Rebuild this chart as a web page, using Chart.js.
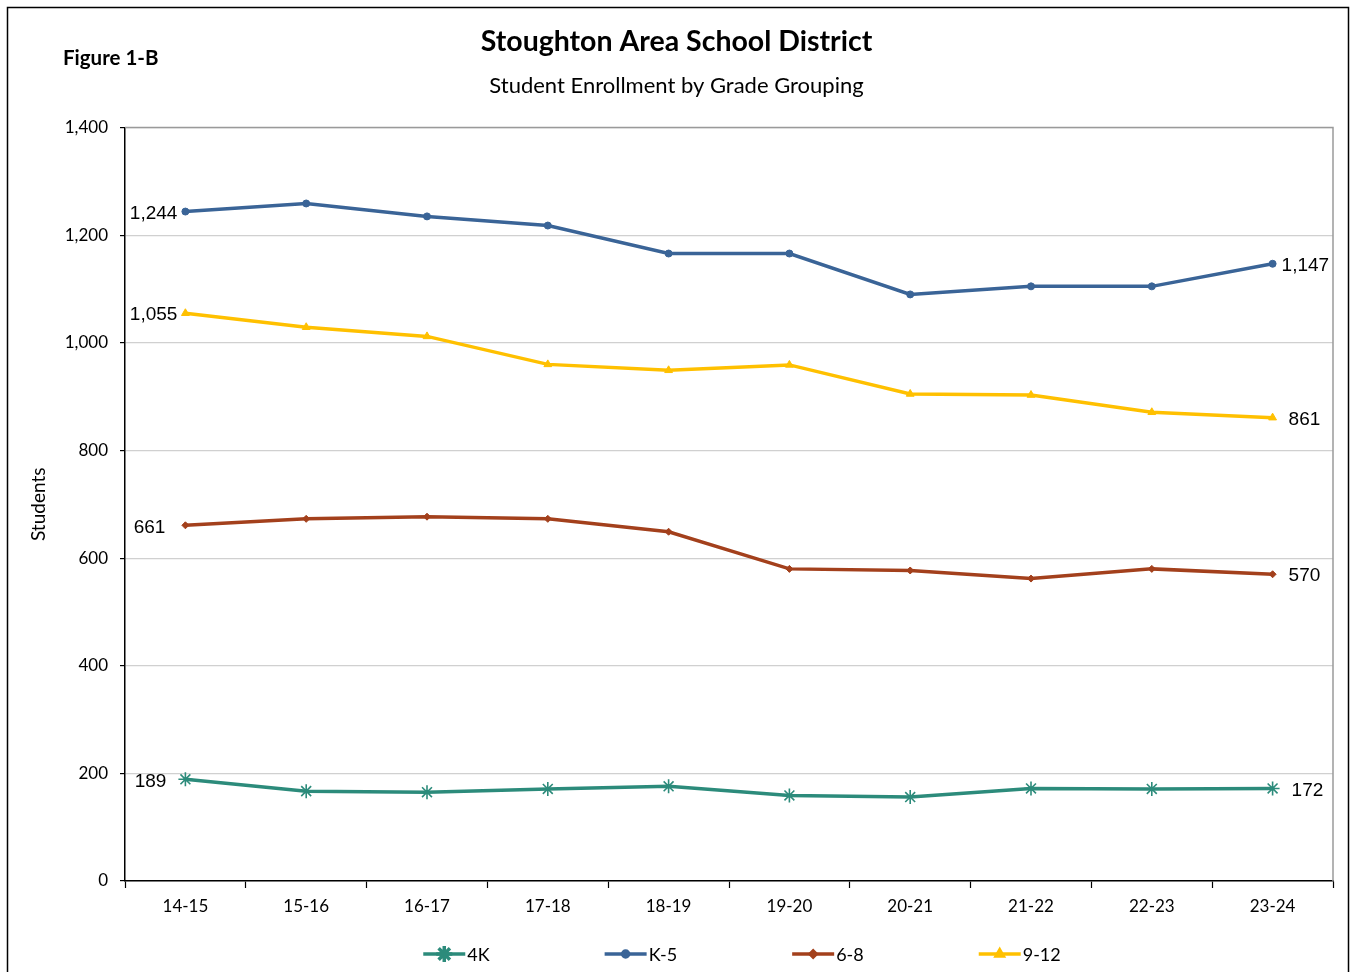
<!DOCTYPE html>
<html>
<head>
<meta charset="utf-8">
<script src="https://cdn.jsdelivr.net/npm/chart.js@4/dist/chart.umd.min.js"></script>
<style>
  html, body { margin: 0; padding: 0; background: #fff; }
  #box { width: 1350px; height: 972px; }
</style>
</head>
<body>
<div id="box"><canvas id="enrollment"></canvas></div>
<script>
// années scolaires
const years = ['14-15', '15-16', '16-17', '17-18', '18-19', '19-20', '20-21', '21-22', '22-23', '23-24'];

// effectifs par groupe
const pre4K = [189, 167, 165, 171, 176, 159, 156, 172, 171, 172];
const gradesK5 = [1244, 1259, 1235, 1218, 1166, 1166, 1090, 1105, 1105, 1147];
const grades68 = [661, 673, 677, 673, 649, 580, 577, 562, 580, 570];
const grades912 = [1055, 1029, 1012, 960, 949, 959, 905, 903, 871, 861];

// graduations axe Y
const yTicks = [0, 200, 400, 600, 800, 1000, 1200, 1400];

const labelFont = '19px "Liberation Sans", Arial, sans-serif';
const textFont = 'Lato, "Open Sans", sans-serif';

// cadre, figure 1-B, bord du graphique
const framePlugin = {
  id: 'frame',
  beforeDraw(chart) {
    const ctx = chart.ctx;
    ctx.save();
    ctx.fillStyle = '#fff';
    ctx.fillRect(0, 0, chart.width, chart.height);
    ctx.strokeStyle = '#000';
    ctx.lineWidth = 1.5;
    ctx.strokeRect(7.5, 7.5, 1341, 990);
    ctx.fillStyle = '#000';
    ctx.font = 'bold 20.5px ' + textFont;
    ctx.textBaseline = 'middle';
    ctx.fillText('Figure 1-B', 63, 58);
    ctx.restore();
  },
  beforeDatasetsDraw(chart) {
    const a = chart.chartArea;
    const ctx = chart.ctx;
    ctx.save();
    ctx.strokeStyle = '#9a9a9a';
    ctx.lineWidth = 1.5;
    ctx.beginPath();
    ctx.moveTo(a.left, a.top);
    ctx.lineTo(a.right, a.top);
    ctx.lineTo(a.right, a.bottom);
    ctx.stroke();
    ctx.restore();
  }
};

// étiquettes de début et fin
const endLabels = {
  id: 'endLabels',
  afterDatasetsDraw(chart) {
    const ctx = chart.ctx;
    ctx.save();
    ctx.font = labelFont;
    ctx.fillStyle = '#000';
    ctx.textBaseline = 'middle';
    chart.data.datasets.forEach((ds, i) => {
      const pts = chart.getDatasetMeta(i).data;
      const first = pts[0], last = pts[pts.length - 1];
      const fmt = v => v.toLocaleString('en-US');
      ctx.textAlign = 'right';
      ctx.fillText(fmt(ds.data[0]), first.x - ds.leftGap, first.y + 2);
      ctx.textAlign = 'left';
      ctx.fillText(fmt(ds.data[ds.data.length - 1]), last.x + ds.rightGap, last.y + 2);
    });
    ctx.restore();
  }
};

// légende ligne + marqueur
const lineLegend = {
  id: 'lineLegend',
  afterDraw(chart) {
    const ctx = chart.ctx;
    const a = chart.chartArea;
    const y = 954, lineLen = 42, spacing = 115;
    ctx.save();
    ctx.font = '18px ' + textFont;
    ctx.textBaseline = 'middle';
    const widths = chart.data.datasets.map(ds => lineLen + 2 + ctx.measureText(ds.label).width);
    const total = widths.reduce((s, w) => s + w, 0) + spacing * (widths.length - 1);
    let x = (a.left + a.right) / 2 + 13 - total / 2;
    chart.data.datasets.forEach((ds, i) => {
      ctx.strokeStyle = ds.borderColor;
      ctx.lineWidth = ds.borderWidth;
      ctx.beginPath();
      ctx.moveTo(x, y);
      ctx.lineTo(x + lineLen, y);
      ctx.stroke();
      ctx.fillStyle = ds.borderColor;
      Chart.helpers.drawPoint(ctx, {
        pointStyle: ds.pointStyle,
        radius: ds.pointStyle === 'star' ? ds.pointRadius + 1 : ds.pointRadius - 0.5,
        borderWidth: ds.pointBorderWidth, rotation: 0
      }, x + lineLen / 2, y);
      ctx.fillStyle = '#000';
      ctx.textAlign = 'left';
      ctx.fillText(ds.label, x + lineLen + 2, y + 1);
      x += widths[i] + spacing;
    });
    ctx.restore();
  }
};

function series(label, data, color, style, radius, leftGap, rightGap) {
  return {
    label: label,
    data: data,
    borderColor: color,
    backgroundColor: color,
    pointBackgroundColor: color,
    pointBorderColor: color,
    borderWidth: 3.5,
    pointStyle: style,
    pointRadius: radius,
    pointBorderWidth: style === 'star' ? 1.6 : 1,
    pointHoverRadius: radius,
    tension: 0,
    leftGap: leftGap,
    rightGap: rightGap
  };
}

const config = {
  type: 'line',
  data: {
    labels: years,
    datasets: [
      series('4K', pre4K, '#2C8B7B', 'star', 7, 19, 19),
      series('K-5', gradesK5, '#3A6497', 'circle', 3.5, 8, 9),
      series('6-8', grades68, '#A3401C', 'rectRot', 3.5, 20, 16),
      series('9-12', grades912, '#FFC000', 'triangle', 4.5, 8, 16)
    ]
  },
  options: {
    responsive: true,
    maintainAspectRatio: false,
    animation: false,
    locale: 'en-US',
    layout: { padding: { top: 10, left: 20, right: 17, bottom: 46 } },
    plugins: {
      legend: { display: false },
      tooltip: { enabled: false },
      title: {
        display: true,
        text: 'Stoughton Area School District',
        color: '#000',
        font: { family: textFont, size: 28.5, weight: 'bold' },
        padding: { top: 15, bottom: 12 }
      },
      subtitle: {
        display: true,
        text: 'Student Enrollment by Grade Grouping',
        color: '#000',
        font: { family: textFont, size: 22 },
        padding: { top: 1.5, bottom: 28.5 }
      }
    },
    scales: {
      x: {
        offset: true,
        grid: { offset: true, drawOnChartArea: false, drawTicks: true, tickLength: 7, tickColor: '#000', tickWidth: 1.2 },
        border: { color: '#000', width: 1.5 },
        ticks: { color: '#000', font: { family: textFont, size: 17 }, padding: 8, maxRotation: 0 },
        afterFit: s => { s.height = 45; }
      },
      y: {
        min: 0,
        max: 1400,
        afterBuildTicks: s => { s.ticks = yTicks.map(v => ({ value: v })); },
        grid: { color: '#d0d0d0', lineWidth: 1.2, tickLength: 5, tickColor: '#000' },
        border: { color: '#000', width: 1.5 },
        ticks: { color: '#000', font: { family: textFont, size: 17 }, padding: 12 },
        title: {
          display: true,
          text: 'Students',
          color: '#000',
          font: { family: textFont, size: 19 },
          padding: { top: 7, bottom: 0 }
        },
        afterFit: s => { s.width = 105; }
      }
    }
  },
  plugins: [framePlugin, endLabels, lineLegend]
};

new Chart(document.getElementById('enrollment').getContext('2d'), config);
</script>
</body>
</html>
